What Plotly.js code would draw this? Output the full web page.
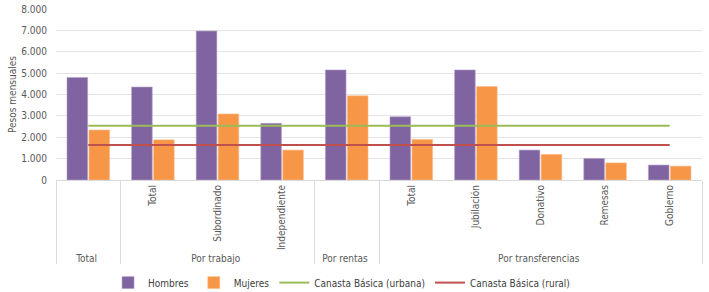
<!DOCTYPE html>
<html>
<head>
<meta charset="utf-8">
<script src="https://cdn.plot.ly/plotly-3.0.1.min.js"></script>
<style>
html,body{margin:0;padding:0;background:#fff;}
#chart{width:709px;height:292px;}
g.xtick2{transform:translateY(-9px);}
</style>
</head>
<body>
<div id="chart"></div>
<script>
const groups = ["Total", "Por trabajo", "Por trabajo", "Por trabajo", "Por rentas",
  "Por transferencias", "Por transferencias", "Por transferencias", "Por transferencias", "Por transferencias"];
const subcats = [" ", "Total", "Subordinado", "Independiente", " ",
  "Total", "Jubilación", "Donativo", "Remesas", "Gobierno"];
const hombres = [4800, 4350, 6970, 2650, 5150, 2960, 5150, 1400, 1010, 700];
const mujeres = [2340, 1880, 3090, 1400, 3940, 1900, 4370, 1200, 800, 650];
const canastaUrbana = [2540, 2540];
const canastaRural = [1640, 1640];
const lineGroups = [groups[0], groups[groups.length - 1]];
const lineSubcats = [subcats[0], subcats[subcats.length - 1]];

const FONT = '"DejaVu Sans Condensed", "Liberation Sans Narrow", Lato, sans-serif';
const FS = 10;

const traces = [
  {type: 'bar', name: 'Hombres', x: [groups, subcats], y: hombres,
   marker: {color: '#8064A2', line: {color: '#b3a2c7', width: 0.6}}, hoverinfo: 'none'},
  {type: 'bar', name: 'Mujeres', x: [groups, subcats], y: mujeres,
   marker: {color: '#F79646', line: {color: '#fac090', width: 0.6}}, hoverinfo: 'none'},
  {type: 'scatter', mode: 'lines', name: 'Canasta Básica (urbana)', x: [lineGroups, lineSubcats], y: canastaUrbana,
   line: {color: '#9BBB59', width: 2}, hoverinfo: 'none'},
  {type: 'scatter', mode: 'lines', name: 'Canasta Básica (rural)', x: [lineGroups, lineSubcats], y: canastaRural,
   line: {color: '#C0504D', width: 2}, hoverinfo: 'none'}
];

const layout = {
  width: 709, height: 292,
  margin: {l: 56, r: 7, t: 9, b: 112, autoexpand: false},
  paper_bgcolor: '#ffffff', plot_bgcolor: '#ffffff',
  separators: ',.',
  font: {family: FONT, size: FS, color: '#595959'},
  barmode: 'group', bargap: 0.32, bargroupgap: 0.06,
  showlegend: true,
  legend: {orientation: 'h', x: 0.442, xanchor: 'center', y: -0.6, yanchor: 'middle',
    font: {family: FONT, size: FS, color: '#404040'}, itemwidth: 30, traceorder: 'normal'},
  xaxis: {type: 'multicategory', tickangle: -90, showdividers: true, dividercolor: '#d9d9d9', dividerwidth: 1,
    showgrid: false, showline: true, linecolor: '#d9d9d9', linewidth: 1, ticks: '', automargin: false,
    tickfont: {family: FONT, size: FS, color: '#595959'}},
  yaxis: {range: [0, 8000], dtick: 1000, tickformat: ',d', showgrid: true, gridcolor: '#e4e4e4', gridwidth: 1,
    zeroline: false, showline: false, ticks: '', ticklabelstandoff: 8, automargin: false,
    tickfont: {family: FONT, size: FS, color: '#595959'},
    title: {text: 'Pesos mensuales', font: {family: FONT, size: FS, color: '#595959'}, standoff: 2}}
};

Plotly.newPlot('chart', traces, layout, {displayModeBar: false, staticPlot: true}).then(function () {
  // shorten the group dividers to end just under the group labels, as in the reference
  document.querySelectorAll('path.xdivider').forEach(function (p) {
    const d = p.getAttribute('d') || '';
    const m = d.match(/^M0,0v(-?[\d.]+)$/);
    if (m) p.setAttribute('d', 'M0,0v' + (parseFloat(m[1]) - 8));
  });
});
</script>
</body>
</html>
